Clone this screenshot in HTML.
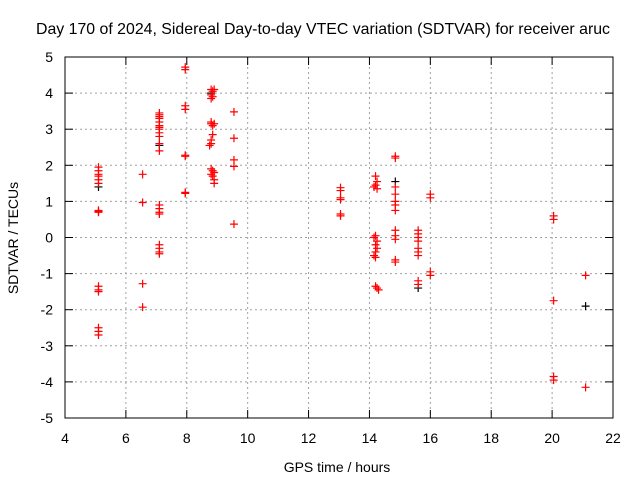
<!DOCTYPE html>
<html><head><meta charset="utf-8"><style>
body{margin:0;background:#fff}
svg{display:block;font-family:"Liberation Sans",sans-serif}
</style></head><body>
<svg id="c" width="640" height="480">
<text x="36" y="34" font-size="16" textLength="574" lengthAdjust="spacingAndGlyphs">Day 170 of 2024, Sidereal Day-to-day VTEC variation (SDTVAR) for receiver aruc</text>
<text x="337" y="472" font-size="14" text-anchor="middle">GPS time / hours</text>
<text transform="translate(18,238) rotate(-90)" font-size="14" text-anchor="middle">SDTVAR / TECUs</text>
</svg>
<script>
const xTicks=[4,6,8,10,12,14,16,18,20,22];
const yTicks=[-5,-4,-3,-2,-1,0,1,2,3,4,5];
const redX=[5.1,5.1,5.1,5.1,5.1,5.1,5.1,5.1,5.1,5.1,5.1,5.1,5.1,5.1,5.1,
6.55,6.55,6.55,6.55,
7.1,7.1,7.1,7.1,7.1,7.1,7.1,7.1,7.1,7.1,7.1,7.1,7.1,7.1,7.1,7.1,7.1,7.1,7.1,7.1,
7.95,7.95,7.95,7.95,7.95,7.95,7.95,7.95,
8.8,8.85,8.9,8.8,8.85,8.8,8.8,8.8,8.85,8.9,8.85,8.8,8.8,8.75,8.8,8.85,8.9,8.8,8.85,8.9,8.9,
9.55,9.55,9.55,9.55,9.55,
13.05,13.05,13.05,13.05,13.05,13.05,
14.2,14.25,14.2,14.15,14.25,14.2,14.15,14.25,14.2,14.25,14.2,14.15,14.2,14.2,14.25,14.3,
14.85,14.85,14.85,14.85,14.85,14.85,14.85,14.85,14.85,14.85,14.85,14.85,
15.6,15.6,15.6,15.6,15.6,15.6,15.6,15.6,15.6,
16,16,16,16,
20.05,20.05,20.05,20.05,20.05,
21.1,21.1];
const redY=[1.95,1.85,1.75,1.7,1.6,1.5,0.75,0.7,0.72,-1.35,-1.45,-1.5,-2.5,-2.6,-2.7,
1.75,0.97,-1.28,-1.93,
3.45,3.4,3.35,3.3,3.2,3.1,3.05,3.0,2.9,2.8,2.6,2.4,0.9,0.8,0.7,0.65,-0.2,-0.3,-0.4,-0.45,
4.72,4.65,3.65,3.55,2.28,2.25,1.25,1.22,
4.1,4.05,4.1,3.95,3.9,3.85,3.2,3.15,3.1,3.15,2.85,2.7,2.6,2.55,1.9,1.85,1.8,1.75,1.7,1.6,1.5,
3.48,2.75,2.15,1.97,0.37,
1.38,1.3,1.1,1.05,0.65,0.6,
1.7,1.55,1.45,1.4,1.35,0.05,0,-0.1,-0.2,-0.3,-0.4,-0.5,-0.55,-1.35,-1.4,-1.45,
2.25,2.2,1.4,1.2,1.0,0.9,0.75,0.2,0.05,-0.05,-0.62,-0.68,
0.2,0.1,0,-0.1,-0.3,-0.4,-0.5,-1.2,-1.3,
1.2,1.1,-0.95,-1.05,
0.6,0.5,-1.75,-3.85,-3.95,
-1.05,-4.15];
const blackX=[5.1,7.1,8.8,14.85,15.6,21.1];
const blackY=[1.4,2.55,4.0,1.55,-1.4,-1.9];
const L=65,R=613,T=57,B=418;
const sx=v=>L+(v-4)/18*(R-L);
const sy=v=>B-(v+5)/10*(B-T);
const svg=document.getElementById('c');
const NS='http://www.w3.org/2000/svg';
function mk(t,a){const e=document.createElementNS(NS,t);for(const k in a)e.setAttribute(k,a[k]);svg.appendChild(e);return e;}
xTicks.forEach(v=>{const x=sx(v);
 if(v>4&&v<22){const g=mk('line',{x1:x,y1:T,x2:x,y2:B,stroke:'#a0a0a0','stroke-dasharray':'2,3'});
 
 }
 mk('line',{x1:x,y1:B,x2:x,y2:B-8,stroke:'#000'});
 mk('line',{x1:x,y1:T,x2:x,y2:T+8,stroke:'#000'});
 const t=mk('text',{x:x,y:B+25,'font-size':14,'text-anchor':'middle'});t.textContent=v;
 
 
});
yTicks.forEach(v=>{const y=sy(v);
 if(v>-5&&v<5){const g=mk('line',{x1:L,y1:y,x2:R,y2:y,stroke:'#a0a0a0','stroke-dasharray':'2,3'});
 
 }
 mk('line',{x1:L,y1:y,x2:L+8,y2:y,stroke:'#000'});
 mk('line',{x1:R,y1:y,x2:R-8,y2:y,stroke:'#000'});
 const t=mk('text',{x:L-12,y:y+5,'font-size':14,'text-anchor':'end'});t.textContent=v;
 
 
});
const fr=mk('rect',{x:L,y:T,width:R-L,height:B-T,fill:'none',stroke:'#000'});


function plus(x,y,c,name){const p=mk('path',{d:`M${x-4},${y}h8M${x},${y-4}v8`,stroke:c,'stroke-width':1.2});
 
 }
blackX.forEach((v,i)=>plus(sx(v),sy(blackY[i]),'#000','black-point'));
redX.forEach((v,i)=>plus(sx(v),sy(redY[i]),'#f00','red-point'));
</script>
</body></html>
